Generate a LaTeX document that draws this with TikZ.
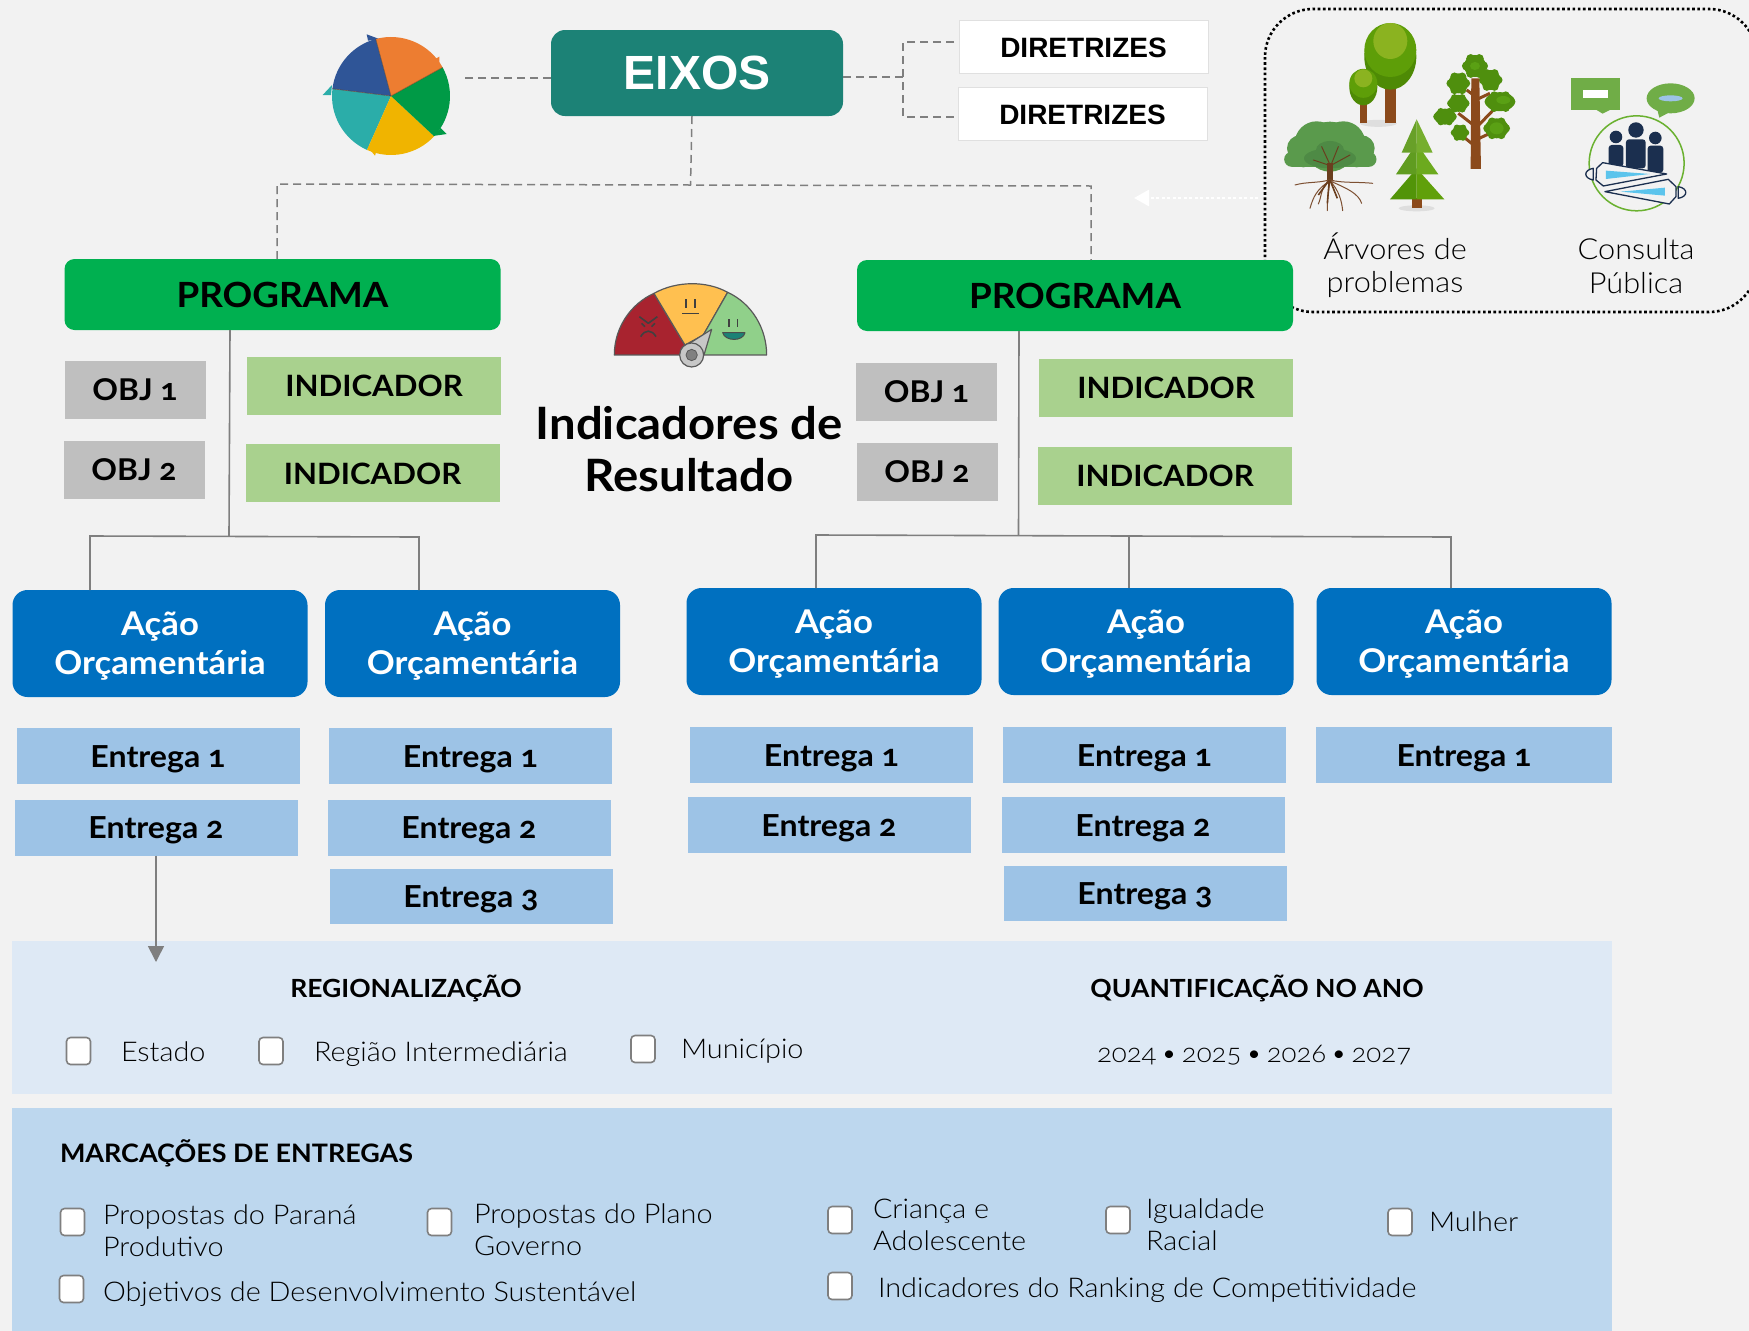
\documentclass[tikz,border=0pt]{standalone}
\usepackage{fontspec}
\setmainfont{Lato}[Numbers=OldStyle,FakeStretch=1.06]
\newfontfamily\lgt{Lato Light}[Numbers=OldStyle,FakeStretch=1.06]
\newfontfamily\arl{Liberation Sans}[BoldFont={Liberation Sans Bold}]
\usetikzlibrary{arrows.meta}
\newcommand{\fs}[2]{\fontsize{#1}{#2}\selectfont}
\newcommand{\aotxt}{\rule{0pt}{29.5pt}Ação\\Orçamentária}
\definecolor{bgc}{HTML}{F2F2F2}
\definecolor{eixc}{HTML}{1C8276}
\definecolor{prgc}{HTML}{00B050}
\definecolor{objc}{HTML}{BFBFBF}
\definecolor{indc}{HTML}{A9D18E}
\definecolor{acaoc}{HTML}{0070C0}
\definecolor{entc}{HTML}{9DC3E6}
\definecolor{band1}{HTML}{DEE9F5}
\definecolor{band2}{HTML}{BDD7EE}
\definecolor{linec}{HTML}{7F7F7F}
\definecolor{navyc}{HTML}{1B2F4F}
\definecolor{lgreen}{HTML}{70AD47}
\definecolor{brownc}{HTML}{8B4A1C}
\definecolor{leafc}{RGB}{79,143,14}
\definecolor{leafd}{RGB}{90,160,20}
\tikzset{
  x=1pt,y=-1pt,
  anybox/.style={inner sep=0pt,outer sep=0pt,align=center},
  eixbox/.style={anybox,fill=eixc,rounded corners=14pt,minimum width=292pt,minimum height=86pt,text=white,font=\arl\bfseries\fs{48}{50}},
  dirbox/.style={anybox,fill=white,draw=black!12,line width=1pt,minimum width=249pt,minimum height=53pt,text height=21pt,text depth=0pt,font=\arl\bfseries\fs{28}{32}},
  prgbox/.style={anybox,fill=prgc,rounded corners=10pt,minimum width=436pt,minimum height=71pt,text height=26pt,text depth=0pt,font=\bfseries\fs{34.7}{40}},
  objbox/.style={anybox,fill=objc,minimum width=141pt,minimum height=58pt,font=\bfseries\fs{30}{32}},
  indbox/.style={anybox,fill=indc,minimum width=254pt,minimum height=58pt,text height=22pt,text depth=0pt,font=\bfseries\fs{29.4}{34}},
  acaobox/.style={anybox,fill=acaoc,rounded corners=15pt,minimum width=295pt,minimum height=107pt,text=white,font=\bfseries\fs{32.7}{39}},
  entbox/.style={anybox,fill=entc,minimum width=283pt,minimum height=56pt,text height=28pt,text depth=6pt,font=\bfseries\fs{30.3}{32}},
  chk/.style={anybox,fill=white,draw=linec,line width=1.6pt,rounded corners=4pt,minimum width=24pt,minimum height=27pt},
  boldlbl/.style={anybox,font=\bfseries\fs{25}{30}},
  lgtlbl/.style={anybox,align=left,anchor=west,font=\lgt\fs{27.2}{32}},
  dashc/.style={draw=linec,line width=1.5pt,dash pattern=on 8pt off 5pt},
  treec/.style={draw=linec,line width=1.6pt},
}
\begin{document}
\begin{tikzpicture}
\useasboundingbox (0,0) rectangle (1749,1331);
\fill[bgc] (0,0) rectangle (1749,1331);
% bands
\node[anybox,fill=band1,minimum width=1600pt,minimum height=153pt] (bandA) at (812,1017.5) {};
\node[anybox,fill=band2,minimum width=1600pt,minimum height=223pt] (bandB) at (812,1219.5) {};
% dotted frame
\begin{scope}
\clip (0,0) rectangle (1749,1331);
\draw[line width=2.6pt,black,dash pattern=on 2.6pt off 2.6pt,rounded corners=48pt] (1265,9) rectangle (1757,312);
\end{scope}
% main nodes
\node[eixbox] (eixos) at (697,73) {EIXOS};
\node[dirbox] (dir1) at (1083.5,46.5) {DIRETRIZES};
\node[dirbox] (dir2) at (1082.5,114) {DIRETRIZES};
\node[prgbox] (p1) at (282.5,294.5) {PROGRAMA};
\node[prgbox] (p2) at (1075,295.5) {PROGRAMA};
\node[objbox] (o11) at (135,389.5) {OBJ 1};
\node[objbox] (o12) at (134,470) {OBJ 2};
\node[objbox] (o21) at (926.5,391.5) {OBJ 1};
\node[objbox] (o22) at (927,472) {OBJ 2};
\node[indbox] (i11) at (374,385.5) {INDICADOR};
\node[indbox] (i12) at (372.5,473) {INDICADOR};
\node[indbox] (i21) at (1166,387.5) {INDICADOR};
\node[indbox] (i22) at (1165,475.5) {INDICADOR};
\node[acaobox] (a1) at (160,643.5) {\aotxt};
\node[acaobox] (a2) at (472.5,643.5) {\aotxt};
\node[acaobox] (a3) at (834,641.5) {\aotxt};
\node[acaobox] (a4) at (1146,641.5) {\aotxt};
\node[acaobox] (a5) at (1464,641.5) {\aotxt};
\node[entbox] (e11) at (158,756) {Entrega 1};
\node[entbox] (e12) at (156,827.5) {Entrega 2};
\node[entbox] (e21) at (470.5,756) {Entrega 1};
\node[entbox] (e22) at (469,827.5) {Entrega 2};
\node[entbox,minimum height=55pt] (e23) at (471,896) {Entrega 3};
\node[entbox] (e31) at (831.5,755) {Entrega 1};
\node[entbox] (e32) at (829,825) {Entrega 2};
\node[entbox] (e41) at (1144.5,755) {Entrega 1};
\node[entbox] (e42) at (1143,825) {Entrega 2};
\node[entbox,minimum height=55pt] (e43) at (1145,893) {Entrega 3};
\node[entbox,minimum width=296pt] (e51) at (1464,755) {Entrega 1};
% connectors
\coordinate (icoR) at (465,78);
\coordinate (brk) at (903,77);
\coordinate (d1end) at (954,42);
\coordinate (d2end) at (954,117);
\coordinate (tree0) at (690.5,185);
\coordinate (treeL) at (277,184);
\coordinate (treeR) at (1091,186);
\draw[dashc] (eixos.west |- icoR) -- (icoR);
\draw[dashc] (eixos.east |- brk) -- (brk);
\draw[dashc] (d1end) -- (brk |- d1end) -- (brk |- d2end) -- (d2end);
\draw[dashc] (692,116) -- (tree0);
\draw[dashc] (treeL |- p1.north) -- (treeL) -- (tree0) -- (treeR) -- (treeR |- p2.north);
\coordinate (frameW) at (1258,198);
\coordinate (frameT) at (1134,198);
\draw[white,line width=2.7pt,dash pattern=on 2.7pt off 2.8pt,-{Triangle[length=15pt,width=16pt]}] (frameW) -- (frameT);
% trunks
\coordinate (jL) at (229,536);
\coordinate (jL1) at (90,536);
\coordinate (jL2) at (419,537);
\coordinate (jR) at (1018.5,535);
\coordinate (jR1) at (816,535);
\coordinate (jR2) at (1129,536);
\coordinate (jR3) at (1451,537);
\draw[treec] (230,330) -- (jL);
\draw[treec] (jL1 |- a1.north) -- (jL1) -- (jL2) -- (jL2 |- a2.north);
\draw[treec] (1019,331) -- (jR);
\draw[treec] (jR1 |- a3.north) -- (jR1) -- (jR2) -- (jR3) -- (jR3 |- a5.north);
\draw[treec] (jR2) -- (jR2 |- a4.north);
\coordinate (arrowEnd) at (156,962);
\draw[treec,-{Triangle[length=16pt,width=16pt]}] (e12.south -| arrowEnd) -- (arrowEnd);
% center title
\node[anybox,font=\bfseries\fs{44.6}{52}] (indres) at (689,449) {Indicadores de\\Resultado};
% lower labels
\node[boldlbl] (reg) at (406,988.5) {REGIONALIZAÇÃO};
\node[boldlbl] (quant) at (1257,988.5) {QUANTIFICAÇÃO NO ANO};
\node[chk] (cE) at (78.5,1051) {};
\node[chk] (cR) at (271,1051) {};
\node[chk] (cM) at (643,1049) {};
\node[lgtlbl] (tE) at (121,1052) {Estado};
\node[lgtlbl] (tR) at (314,1054) {Região Intermediária};
\node[lgtlbl] (tM) at (681,1051) {Município};
\node[lgtlbl,font=\lgt\fs{26}{30}] (tY) at (1097,1055) {\spaceskip .18em 2024 • 2025 • 2026 • 2027};
\node[boldlbl,anchor=west,font=\bfseries\fs{25.4}{30}] (marc) at (60,1153) {MARCAÇÕES DE ENTREGAS};
\node[chk] (m1) at (72.5,1222) {};
\node[chk] (m2) at (439.5,1222) {};
\node[chk] (m3) at (840,1220) {};
\node[chk] (m4) at (1118,1220) {};
\node[chk] (m5) at (1400,1222) {};
\node[chk] (m6) at (71.5,1289) {};
\node[chk] (m7) at (840,1286) {};
\node[lgtlbl] (tm1) at (103,1231) {Propostas do Paraná\\Produtivo};
\node[lgtlbl] (tm2) at (474,1230) {Propostas do Plano\\Governo};
\node[lgtlbl] (tm3) at (873,1225) {Criança e\\Adolescente};
\node[lgtlbl] (tm4) at (1146,1225) {Igualdade\\Racial};
\node[lgtlbl] (tm5) at (1429,1222) {Mulher};
\node[lgtlbl] (tm6) at (103,1294) {Objetivos de Desenvolvimento Sustentável};
\node[lgtlbl] (tm7) at (878,1290) {Indicadores do Ranking de Competitividade};
% frame labels
\node[anybox,font=\lgt\fs{29}{33.5}] (tarv) at (1395,265) {Árvores de\\problemas};
\node[anybox,font=\lgt\fs{29}{33.5}] (tcon) at (1636,266) {Consulta\\Pública};
% pie icon
\fill[fill={rgb,255:red,47;green,85;blue,151}] (366.7,34.3) -- (380,39.3) -- (368,40.7) -- cycle;
\fill[fill={rgb,255:red,237;green,125;blue,49}] (439.3,56.7) -- (439.3,69) -- (433,60) -- cycle;
\fill[fill={rgb,255:red,0;green,154;blue,70}] (446.7,134) -- (433,136) -- (440.7,128) -- cycle;
\fill[fill={rgb,255:red,240;green,180;blue,0}] (375,155.7) -- (366.7,145.7) -- (377,149) -- cycle;
\fill[fill={rgb,255:red,43;green,173;blue,169}] (322.7,95) -- (332,85) -- (331,95) -- cycle;
\begin{scope}[shift={(391,96)},x=1pt,y=1pt]
\fill[fill={rgb,255:red,43;green,173;blue,169}] (0,0) -- (173:59) arc[start angle=173,end angle=246,radius=59] -- cycle;
\fill[fill={rgb,255:red,240;green,180;blue,0}] (0,0) -- (-114:59) arc[start angle=-114,end angle=-43,radius=59] -- cycle;
\fill[fill={rgb,255:red,0;green,154;blue,70}] (0,0) -- (-43:59) arc[start angle=-43,end angle=29,radius=59] -- cycle;
\fill[fill={rgb,255:red,237;green,125;blue,49}] (0,0) -- (29:59) arc[start angle=29,end angle=105,radius=59] -- cycle;
\fill[fill={rgb,255:red,47;green,85;blue,151}] (0,0) -- (105:59) arc[start angle=105,end angle=173,radius=59] -- cycle;
\draw[black!45!brown,line width=.7pt,opacity=.6] (105:59) -- (0,0) -- (173:59) (29:59) -- (0,0);
\end{scope}
% gauge icon
\begin{scope}[shift={(580,260)},x=0.3333pt,y=-0.3333pt,line join=round]
\filldraw[fill={rgb,255:red,168;green,35;blue,47},draw=black!65,line width=1.2pt] (103,285) .. controls (103,200) and (155,130) .. (222,100) -- (315,255) -- (300,285) -- cycle;
\filldraw[fill={rgb,255:red,255;green,192;blue,80},draw=black!65,line width=1.2pt] (222,100) .. controls (290,62) and (380,62) .. (443,97) -- (370,225) -- (315,255) -- cycle;
\filldraw[fill={rgb,255:red,144;green,208;blue,138},draw=black!65,line width=1.2pt] (443,97) .. controls (515,130) and (560,205) .. (560,285) -- (365,285) -- (370,225) -- cycle;
\draw[black!75,line width=1.6pt] (178,170) -- (205,190) -- (232,170) (185,190) -- (195,200) (225,190) -- (215,200);
\draw[black!75,line width=1.6pt] (182,230) .. controls (195,208) and (215,208) .. (228,230);
\draw[black!75,line width=1.6pt] (318,118) -- (318,143) (345,118) -- (345,143) (307,160) -- (358,160);
\draw[black!75,line width=1.6pt] (447,178) -- (447,202) (473,178) -- (473,202);
\filldraw[fill={rgb,255:red,28;green,130;blue,118},draw=black!70,line width=1pt] (428,218) -- (495,218) .. controls (490,245) and (435,245) .. (428,218) -- cycle;
\filldraw[fill=black!22,draw=black!65,line width=1.2pt] (395,208) -- (372,285) -- (305,265) -- cycle;
\filldraw[fill=black!22,draw=black!65,line width=1.2pt] (335,285) circle[radius=36];
\filldraw[fill=black!50,draw=black!65,line width=.8pt] (335,285) circle[radius=17];
\end{scope}
% trees
\begin{scope}[shift={(1250,0)},x=0.3333pt,y=-0.3333pt,line join=round]
\fill[black!13] (385,370) ellipse[x radius=18.5pt,y radius=3.5pt];
\fill[black!13] (500,625) ellipse[x radius=18pt,y radius=3pt];
% big round
\fill[brownc] (405,255) rectangle (438,370);
\fill[brownc] (330,300) rectangle (350,370);
\fill[fill={rgb,255:red,78;green,138;blue,5}] (421,170) ellipse[x radius=26pt,y radius=33pt];
\fill[fill={rgb,255:red,94;green,158;blue,8}] (421,150) ellipse[x radius=26pt,y radius=27pt];
\fill[fill={rgb,255:red,139;green,179;blue,32}] (421,123) ellipse[x radius=17pt,y radius=18pt];
\fill[fill={rgb,255:red,78;green,138;blue,5}] (340,262) ellipse[x radius=14pt,y radius=18pt];
\fill[fill={rgb,255:red,94;green,158;blue,8}] (340,250) ellipse[x radius=14pt,y radius=14.5pt];
\fill[fill={rgb,255:red,139;green,179;blue,32}] (340,235) ellipse[x radius=9pt,y radius=9pt];
% pine
\fill[brownc] (485,595) rectangle (517,625);
\fill[fill={rgb,255:red,82;green,148;blue,8}] (500,505) -- (420,598) -- (500,598) -- cycle;
\fill[fill={rgb,255:red,96;green,160;blue,10}] (500,505) -- (583,598) -- (500,598) -- cycle;
\fill[fill={rgb,255:red,96;green,156;blue,32}] (500,430) -- (438,523) -- (500,523) -- cycle;
\fill[fill={rgb,255:red,108;green,170;blue,30}] (500,430) -- (565,523) -- (500,523) -- cycle;
\fill[fill={rgb,255:red,104;green,160;blue,40}] (500,358) -- (455,458) -- (500,458) -- cycle;
\fill[fill={rgb,255:red,118;green,174;blue,46}] (500,358) -- (548,458) -- (500,458) -- cycle;
% branched tree
\draw[brownc,line width=3pt] (677,380) -- (625,340) (677,385) -- (730,330) (677,290) -- (650,270) (677,300) -- (720,280) (677,440) -- (640,410) (677,420) -- (720,400);
\foreach \cx/\cy/\ra/\rb in {675/198/11/11,625/250/10/10,722/240/10/10,750/305/15/9.5,625/310/10/8.5,585/350/11/8,630/398/8/7.5,740/385/12/10}{
  \fill[leafc] (\cx,\cy) ellipse[x radius=\ra pt,y radius=\rb pt];
  \foreach \a in {0,60,...,300}{
    \fill[leafc] ({\cx+2.3*\ra*cos(\a)},{\cy+2.3*\rb*sin(\a)}) circle[radius=0.42*\rb*1pt];
  }
}
\foreach \cx/\cy/\ra/\rb in {740/385/7/6,675/198/5/4,760/300/7/4}{
  \fill[leafd] (\cx,\cy) ellipse[x radius=\ra pt,y radius=\rb pt];
}
\fill[brownc] (664,235) -- (688,235) -- (693,507) -- (662,507) -- cycle;
% oak crown
\foreach \cx/\cy/\ra in {240/400/11,190/410/11,295/410/11,150/445/13,335/445/13,125/478/7.5,357/478/7.5,200/430/22,280/430/22,240/440/25,160/475/9,320/475/9,215/385/6,265/385/6,165/425/8,318/425/8}{
  \fill[fill={rgb,255:red,90;green,154;blue,76}] (\cx,\cy) circle[radius=\ra pt];
}
\fill[fill={rgb,255:red,90;green,154;blue,76}] (125,460) rectangle (357,500);
\fill[fill={rgb,255:red,78;green,138;blue,69}] (240,475) ellipse[x radius=26pt,y radius=10pt];
\fill[fill={rgb,255:red,78;green,138;blue,69}] (240,450) ellipse[x radius=14pt,y radius=9pt];
\fill[fill={rgb,255:red,106;green,62;blue,30}] (230,490) -- (250,490) -- (250,540) -- (230,540) -- cycle;
\draw[fill=none,draw={rgb,255:red,106;green,62;blue,30},line width=1pt,line cap=round] (235,495) -- (190,480) (238,490) -- (215,440) (245,490) -- (265,440) (245,495) -- (300,465);
\draw[draw={rgb,255:red,125;green,80;blue,50},line width=1pt,line cap=round] (238,540) .. controls (200,550) and (170,545) .. (135,555) (240,540) .. controls (280,550) and (320,545) .. (368,550) (235,545) .. controls (200,570) and (190,590) .. (180,625) (240,545) .. controls (235,570) and (232,600) .. (232,632) (242,545) .. controls (265,570) and (275,600) .. (278,632) (245,545) .. controls (290,565) and (325,580) .. (335,610) (232,545) .. controls (210,575) and (215,590) .. (205,612);
\draw[draw={rgb,255:red,106;green,62;blue,30},line width=1.6pt] (238,540) -- (232,610) (240,540) -- (262,595) (238,540) -- (205,585);
% consulta
\fill[lgreen] (963,234) rectangle (1110,330);
\fill[lgreen] (1040,330) -- (1080,330) -- (1058,341) -- cycle;
\fill[white] (1000,270) rectangle (1073,295);
\fill[lgreen] (1262,295) ellipse[x radius=24pt,y radius=15pt];
\fill[lgreen] (1220,320) -- (1262,335) -- (1228,353) -- cycle;
\fill[fill={rgb,255:red,157;green,195;blue,230}] (1262,295) ellipse[x radius=12pt,y radius=3pt];
\draw[draw={rgb,255:red,106;green,177;blue,48},line width=1.5pt] (1160,490) circle[radius=47.5pt];
\fill[navyc] (1158,390) circle[radius=7.7pt];
\fill[navyc] (1098,411) circle[radius=6.3pt];
\fill[navyc] (1216,414) circle[radius=6.3pt];
\fill[navyc,rounded corners=3pt] (1128,418) rectangle (1187,505);
\fill[navyc,rounded corners=3pt] (1076,435) rectangle (1120,500);
\fill[navyc,rounded corners=3pt] (1193,437) rectangle (1240,518);
\filldraw[fill=bgc,draw=navyc,line width=1.3pt] (1058,488) -- (1250,522) -- (1060,558) -- (1038,540) -- (1040,505) -- cycle;
\filldraw[fill=bgc,draw=navyc,line width=1.3pt] (1030,505) .. controls (1000,510) and (1000,535) .. (1030,540) -- cycle;
\fill[fill={rgb,255:red,92;green,196;blue,236}] (1068,512) -- (1200,522) -- (1068,537) -- cycle;
\filldraw[fill=bgc,draw=navyc,line width=1.3pt] (1065,575) -- (1255,538) -- (1278,560) -- (1278,590) -- (1258,612) -- cycle;
\filldraw[fill=bgc,draw=navyc,line width=1.3pt] (1285,560) .. controls (1315,565) and (1315,590) .. (1285,595) -- cycle;
\fill[fill={rgb,255:red,92;green,196;blue,236}] (1112,575) -- (1245,563) -- (1245,587) -- cycle;
\end{scope}
\end{tikzpicture}
\end{document}
